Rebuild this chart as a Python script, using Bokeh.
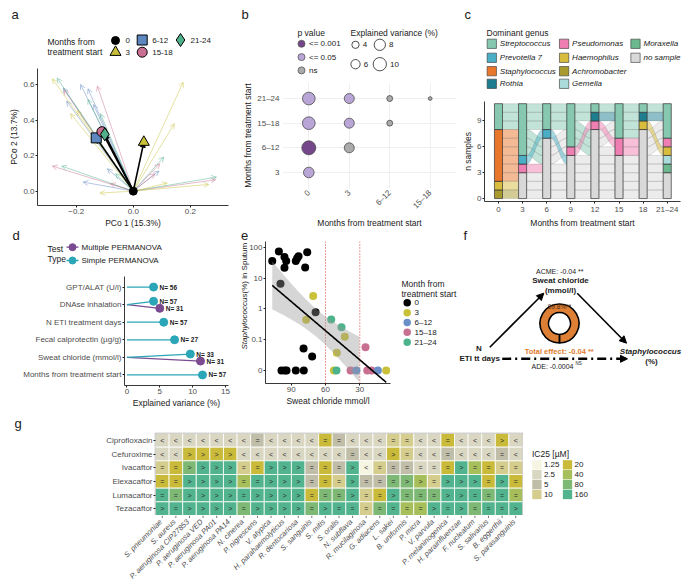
import numpy as np
from math import pi
from bokeh.plotting import figure
from bokeh.models import (ColumnDataSource, Range1d, FactorRange, Arrow, OpenHead, NormalHead,
                          FixedTicker, Span, CategoricalColorMapper)
from bokeh.embed import file_html
from bokeh.resources import INLINE
from bokeh.core.properties import value
from bokeh.transform import dodge, factor_cmap, transform

FONT = "Liberation Sans"
INK = "#1A1A1A"
GREY_TXT = "#4D4D4D"

# ======================= DATA =======================
# a: PCoA (arrows from baseline to each sample, plus group centroids)
a_groups = ["0", "3", "6-12", "15-18", "21-24"]
a_colors = ["#000000", "#C9C13A", "#5E87C0", "#C97092", "#4FB08A"]
a_markers = ["circle", "triangle", "square", "circle", "diamond"]
a_sizes = [8, 11, 10, 10, 13]
a_cent_x = [0.0, 0.037, -0.13, -0.11, -0.10]
a_cent_y = [0.0, 0.276, 0.30, 0.335, 0.32]
a3_x = [-0.284, -0.220, 0.175, 0.144, 0.265, 0.119, -0.117, -0.197]
a3_y = [0.633, 0.436, 0.614, 0.380, 0.038, 0.045, -0.011, 0.455]
a612_x = [-0.246, -0.185, -0.159, -0.234, -0.140, 0.090, -0.176, -0.091]
a612_y = [0.582, 0.601, 0.577, 0.507, 0.488, 0.113, 0.051, 0.126]
a1518_x = [-0.243, -0.126, 0.093, -0.284, -0.080, 0.289, 0.076]
a1518_y = [0.571, 0.592, 0.154, 0.141, 0.042, 0.064, 0.098]
a2124_x = [-0.267, -0.159, -0.115, 0.107, -0.251, -0.062, 0.292]
a2124_y = [0.637, 0.517, 0.436, 0.192, 0.141, 0.098, 0.079]

# b: pairwise PERMANOVA bubbles
b_cols = ["0", "3", "6–12", "15–18"]
b_rows = ["3", "6–12", "15–18", "21–24"]
b_x = ["0", "3", "6–12", "15–18", "0", "3", "6–12", "0", "3", "0"]
b_y = ["21–24", "21–24", "21–24", "21–24", "15–18", "15–18", "15–18", "6–12", "6–12", "3"]
b_var = [9.4, 6.7, 2.6, 0.4, 9.4, 6.7, 2.6, 10.7, 6.7, 7.3]
b_p = ["<= 0.05", "<= 0.05", "ns", "ns", "<= 0.05", "<= 0.05", "ns", "<= 0.001", "ns", "<= 0.05"]
b_levels = ["<= 0.001", "<= 0.05", "ns"]
b_lcolors = ["#74478A", "#B9A6D6", "#ABABAB"]
b_size_breaks = [4, 6, 8, 10]

# c: alluvial of dominant genus per subject
c_genus = ["Streptococcus", "Prevotella 7", "Staphylococcus", "Rothia", "Pseudomonas",
           "Haemophilus", "Achromobacter", "Gemella", "Moraxella", "no sample"]
c_colors = ["#86C8B0", "#4AAFC6", "#E8762B", "#1E7E8F", "#EF7FB2",
            "#D8BC3E", "#A99A2F", "#A9DCDB", "#6DB98F", "#D9D9D9"]
c_times = ["0", "3", "6", "9", "12", "15", "18", "21–24"]
St, Pr, Sa, Ro, Ps, Ha, Ac, Ge, Mo, NS = c_genus
c_t0 = [St, St, St, Sa, Sa, Sa, Sa, Sa, Sa, Ha, Ac]
c_t3 = [St, St, St, St, St, St, Pr, Ps, NS, NS, NS]
c_t6 = [St, St, St, NS, NS, NS, Pr, NS, NS, NS, NS]
c_t9 = [St, St, St, St, St, Ps, NS, NS, NS, NS, NS]
c_t12 = [St, Ro, NS, NS, NS, Ps, NS, NS, NS, NS, NS]
c_t15 = [St, St, St, St, Ps, Ps, NS, NS, NS, NS, NS]
c_t18 = [St, Ro, Ha, NS, NS, NS, NS, NS, NS, NS, NS]
c_t21 = [St, St, Ha, St, St, Ps, Ge, Mo, NS, NS, NS]

# d: explained variance lollipops
d_cats = ["GPT/ALAT (U/l)", "DNAse inhalation", "N ETI treatment days",
          "Fecal calprotectin (µg/g)", "Sweat chloride (mmol/l)", "Months from treatment start"]
d_cat = ["GPT/ALAT (U/l)", "DNAse inhalation", "DNAse inhalation", "N ETI treatment days",
         "Fecal calprotectin (µg/g)", "Sweat chloride (mmol/l)", "Sweat chloride (mmol/l)",
         "Months from treatment start"]
d_test = ["Simple", "Simple", "Multiple", "Simple", "Simple", "Simple", "Multiple", "Simple"]
d_var = [4.05, 4.05, 5.0, 5.6, 7.25, 9.65, 11.2, 11.5]
d_n = [56, 57, 31, 57, 27, 33, 31, 57]
d_tests = ["Multiple", "Simple"]
d_tlabels = ["Multiple PERMANOVA", "Simple PERMANOVA"]
d_tcolors = ["#7A4B90", "#2BA6B8"]

# e: Staphylococcus vs sweat chloride
e_groups = ["0", "3", "6–12", "15–18", "21–24"]
e_colors = ["#000000", "#C9C13A", "#6A8FC8", "#C87092", "#4DB38A"]
e_month = ["0", "0", "0", "0", "0", "0", "0", "0", "0", "0", "0", "0", "0", "0", "0", "0", "0", "0", "0",
           "3", "3", "3", "3", "3", "3",
           "21–24", "21–24", "21–24",
           "15–18", "15–18", "15–18", "15–18",
           "6–12", "6–12"]
e_chloride = [106.6, 100.8, 95.9, 94.4, 95.9, 86.0, 84.8, 83.6, 76.0, 77.8, 99.4, 68.7, 79.2, 71.7,
              98.5, 95.6, 94.1, 86.0, 79.0,
              70.8, 76.9, 43.1, 50.1, 52.7, 6.9,
              55.0, 46.0, 50.4,
              25.0, 38.1, 23.5, 19.7,
              33.0, 14.2]
e_staph = [35.5, 73, 48, 35.5, 21.5, 35.5, 44, 51, 69, 22, 6.5, 0.78, 0.052, 0.0285,
           0, 0, 0, 0, 0,
           2.6, 0.44, 0.124, 0.0375, 0, 0,
           0.45, 0.255, 0,
           0.057, 0, 0, 0,
           0, 0]
e_floor = 0.01
e_ticks = [0.01, 0.1, 1, 10, 100]
e_ticklabels = ["0", "0.1", "1", "10", "100"]
e_thresholds = [60, 30]

# f: mediation
f_acme = "-0.04"
f_total = "-0.04"
f_ade = "-0.0004"
f_mediated = 99.8

# g: IC25 heatmap
g_species = ["S. pneumoniae", "S. aureus", "P. aeruginosa CIP27853", "P. aeruginosa VED",
             "P. aeruginosa PA01", "P. aeruginosa PA14", "N. cinerea", "P. nigrescens", "V. atypica",
             "H. parahaemolyticus", "R. dentocariosa", "S. sanguinis", "S. mitis", "S. oralis",
             "N. subflava", "R. mucilaginosa", "G. adiacens", "L. sakei", "B. uniformis", "P. micra",
             "V. parvula", "P. melaninogenica", "H. parainfluenzae", "F. nucleatum", "S. salivarius",
             "B. eggerthii", "S. parasanguinis"]
g_drugs = ["Ciprofloxacin", "Cefuroxime", "Ivacaftor", "Elexacaftor", "Lumacaftor", "Tezacaftor"]
g_cipro = [2.5, 2.5, 2.5, 2.5, 2.5, 2.5, 2.5, 5, 2.5, 2.5, 2.5, 2.5, 20, 5, 2.5, 2.5, 2.5, 10, 10, 2.5, 2.5, 20, 2.5, 2.5, 2.5, 20, 2.5]
g_cefur = [2.5, 2.5, 20, 20, 20, 20, 2.5, 2.5, 2.5, 2.5, 2.5, 2.5, 2.5, 2.5, 5, 2.5, 2.5, 20, 10, 2.5, 2.5, 5, 2.5, 2.5, 2.5, 5, 2.5]
g_ivaca = [10, 20, 80, 160, 160, 160, 10, 20, 160, 160, 160, 5, 20, 5, 160, 1.25, 10, 5, 5, 2.5, 2.5, 20, 160, 40, 20, 10, 10]
g_elexa = [20, 20, 160, 160, 160, 160, 40, 160, 160, 160, 160, 5, 20, 10, 160, 5, 5, 80, 80, 40, 10, 160, 160, 160, 20, 160, 20]
g_luma = [160, 80, 160, 160, 160, 160, 160, 160, 160, 160, 160, 20, 80, 80, 160, 10, 20, 160, 80, 80, 80, 160, 160, 160, 80, 160, 40]
g_teza = [160, 160, 160, 160, 160, 160, 80, 160, 160, 160, 160, 80, 160, 160, 160, 10, 80, 160, 40, 40, 160, 160, 160, 80, 160, 160, 160]
g_sym_cipro = "<<<<<<<=<<<<==<<<==<<=<<<><"
g_sym_cefur = "<<>>>><<<<<<<<=<<>=<<=<<<=<"
g_sym_ivaca = "==>>>>==>>>===><======>===="
g_sym_elexa = "==>>>>==>>>===>===>>=>>>=>="
g_sym_luma = "==>>>>=>>>>===>==>===>>===="
g_sym_teza = ">=>>>>=>>>>=>=======>=>===>"
g_levels = ["1.25", "2.5", "5", "10", "20", "40", "80", "160"]
g_palette = ["#F6F5E2", "#D9D6C2", "#C0BEA8", "#D5CD8D", "#C9BA3A", "#A6BF5A", "#7DB875", "#52B38F"]

# ======================= HELPERS =======================
roots = []


def place(p, x, y):
    p.styles = {"position": "absolute", "left": f"{x}px", "top": f"{y}px"}
    p.stylesheets = [":host { position: absolute !important; left: %spx !important; top: %spx !important; }" % (x, y)]
    roots.append(p)


def clear_bg(p):
    p.background_fill_color = None
    p.border_fill_color = None
    p.outline_line_color = None


def style_axis(ax, line=True):
    ax.axis_line_color = "#222222" if line else None
    ax.axis_line_width = 0.9
    ax.major_tick_line_color = "#222222" if line else None
    ax.major_tick_out = 2
    ax.major_tick_in = 0
    ax.minor_tick_line_color = None
    ax.major_label_text_font = FONT
    ax.major_label_text_font_size = "8px"
    ax.major_label_text_color = GREY_TXT
    ax.major_label_standoff = 1
    ax.axis_label_text_font = FONT
    ax.axis_label_text_font_size = "8.5px"
    ax.axis_label_text_font_style = "normal"
    ax.axis_label_text_color = INK
    ax.axis_label_standoff = 1


def main_fig(x0, y0, w, h, xr, yr, l, r, t, b, line=True, **kw):
    p = figure(width=w, height=h, x_range=xr, y_range=yr, toolbar_location=None,
               output_backend="svg", min_border_left=l, min_border_right=r,
               min_border_top=t, min_border_bottom=b, **kw)
    clear_bg(p)
    p.grid.visible = False
    for ax in p.axis:
        style_axis(ax, line)
    place(p, x0, y0)
    return p


def T(p, x, y, s, size=8, color=INK, align="left", base="middle", style="normal", angle=0.0):
    p.text(x=[x], y=[-y], text=[s], text_font=value(FONT), text_font_size=f"{size}px",
           text_color=color, text_align=align, text_baseline=base, text_font_style=style,
           angle=angle)


# overlay in page pixel coordinates (y downwards negated): letters, legends, diagram
ov = figure(width=685, height=584, x_range=Range1d(0, 685), y_range=Range1d(-584, 0),
            toolbar_location=None, output_backend="svg", x_axis_location=None,
            y_axis_location=None, min_border=0)
clear_bg(ov)
ov.grid.visible = False
place(ov, 0, 0)

for letter, lx, ly in [("a", 11, 14), ("b", 241, 14), ("c", 464, 14), ("d", 12, 235),
                       ("e", 240.5, 235), ("f", 463, 235), ("g", 14, 423)]:
    T(ov, lx, ly, letter, 13)

# ======================= PANEL A =======================
T(ov, 47, 41, "Months from", 8.5)
T(ov, 47, 51.5, "treatment start", 8.5)
a_leg_xy = [(115, 40), (115, 51.7), (141.7, 39.5), (141.7, 51.7), (180, 39.5)]
for g, c, m, sz, (lx, ly) in zip(a_groups, a_colors, a_markers, a_sizes, a_leg_xy):
    ov.scatter([lx], [-ly], marker=m, size=sz, fill_color=c, line_color="black", line_width=1)
    T(ov, lx + 10, ly, g, 8)

pa = main_fig(0, 62, 240, 168, Range1d(-0.336, 0.334), Range1d(-0.081, 0.691), 37, 12, 6, 25)
pa.xaxis.axis_label = "PCo 1 (15.3%)"
pa.yaxis.axis_label = "PCo 2 (13.7%)"
pa.xaxis.ticker = FixedTicker(ticks=[-0.2, 0.0, 0.2])
pa.yaxis.ticker = FixedTicker(ticks=[0.0, 0.2, 0.4, 0.6])
pa.xaxis.major_label_overrides = {-0.2: "−0.2", 0: "0.0", 0.2: "0.2"}
pa.yaxis.major_label_overrides = {0: "0.0", 0.2: "0.2", 0.4: "0.4", 0.6: "0.6"}
for g, xs, ys in [("6-12", a612_x, a612_y), ("15-18", a1518_x, a1518_y),
                  ("21-24", a2124_x, a2124_y), ("3", a3_x, a3_y)]:
    c = a_colors[a_groups.index(g)]
    src = ColumnDataSource(dict(x0=[0.0] * len(xs), y0=[0.0] * len(xs), x1=xs, y1=ys))
    pa.add_layout(Arrow(end=OpenHead(size=5, line_color=c, line_alpha=0.6, line_width=0.8),
                        x_start="x0", y_start="y0", x_end="x1", y_end="y1", source=src,
                        line_color=c, line_alpha=0.6, line_width=0.8, level="underlay"))
cent_src = ColumnDataSource(dict(x0=[0.0] * 4, y0=[0.0] * 4, x1=a_cent_x[1:], y1=a_cent_y[1:]))
pa.add_layout(Arrow(end=NormalHead(size=5, fill_color="black", line_color="black"),
                    x_start="x0", y_start="y0", x_end="x1", y_end="y1", source=cent_src,
                    line_color="black", line_width=1.6, level="underlay"))
for g, c, m, sz, cx, cy in zip(a_groups, a_colors, a_markers, a_sizes, a_cent_x, a_cent_y):
    pa.scatter([cx], [cy], marker=m, size=sz, fill_color=c, line_color="black", line_width=1)

# ======================= PANEL B =======================
T(ov, 297, 32, "p value", 8.5)
for i, (lev, c) in enumerate(zip(b_levels, b_lcolors)):
    yy = 43.3 + 13.3 * i
    ov.scatter([301], [-yy], size=7, fill_color=c, line_color="#555555", line_width=0.8)
    T(ov, 308.5, yy, lev, 8)
T(ov, 350, 32, "Explained variance (%)", 8.5)
for v, (cx, cy) in zip(b_size_breaks, [(355, 44.3), (355, 63.7), (379.3, 44.3), (379.3, 63.7)]):
    d = 3.3 + v
    ov.scatter([cx], [-cy], size=d, fill_color="white", line_color="#222222", line_width=0.8)
    T(ov, cx + d / 2 + 3.5, cy, str(v), 8)

pb = main_fig(240, 78, 220, 152,
              FactorRange(*b_cols, range_padding=0.15, range_padding_units="absolute"),
              FactorRange(*b_rows, range_padding=0.15, range_padding_units="absolute"),
              30, 4, 4, 35, line=False)
pb.grid.visible = True
pb.grid.grid_line_color = "#EBEBEB"
pb.grid.grid_line_width = 0.8
pb.xaxis.major_label_orientation = pi / 4
pb.xaxis.axis_label = "Months from treatment start"
pb.yaxis.axis_label = "Months from treatment start"
b_src = ColumnDataSource(dict(x=b_x, y=b_y, d=[3.3 + v for v in b_var], p=b_p))
pb.scatter(x="x", y="y", size="d", source=b_src, fill_color=factor_cmap("p", b_lcolors, b_levels),
           line_color="#4A4A4A", line_width=0.8)

# ======================= PANEL C =======================
T(ov, 486, 32, "Dominant genus", 8.5)
for i, (g, c) in enumerate(zip(c_genus, c_colors)):
    col, r = divmod(i, 4)
    sx = [491.3, 563.6, 635.0][col]
    sy = [43.3, 57.3, 70.7, 83.3][r]
    ov.rect([sx], [-sy], width=9.3, height=9.3, fill_color=c, line_color="#333333", line_width=0.6)
    T(ov, sx + 8, sy, g, 8, style="italic")

pc = main_fig(460, 95, 225, 135, Range1d(-0.58, 7.55), Range1d(-0.34, 11.25), 23, 5, 6, 27)
pc.xaxis.ticker = FixedTicker(ticks=list(range(len(c_times))))
pc.xaxis.major_label_overrides = {i: t for i, t in enumerate(c_times)}
pc.yaxis.ticker = FixedTicker(ticks=[0, 3, 6, 9])
pc.xaxis.axis_label = "Months from treatment start"
pc.yaxis.axis_label = "n samples"

c_series = [c_t0, c_t3, c_t6, c_t9, c_t12, c_t15, c_t18, c_t21]
c_rank = {g: i for i, g in enumerate(reversed(c_genus))}
c_col = dict(zip(c_genus, c_colors))
nsub = len(c_t0)
bw = 1 / 3
u = np.linspace(0, 1, 24)
sm = (1 - np.cos(np.pi * u)) / 2
flows = []
for t in range(len(c_series) - 1):
    A, B = c_series[t], c_series[t + 1]
    out_order = sorted(range(nsub), key=lambda i: (c_rank[A[i]], c_rank[B[i]], i))
    in_order = sorted(range(nsub), key=lambda i: (c_rank[B[i]], c_rank[A[i]], i))
    ya = {i: k for k, i in enumerate(out_order)}
    yb = {i: k for k, i in enumerate(in_order)}
    x0, x1 = t + bw / 2, t + 1 - bw / 2
    xs = x0 + (x1 - x0) * u
    for i in range(nsub):
        bot = ya[i] + (yb[i] - ya[i]) * sm
        top = bot + 1
        flows.append((A[i] != NS, list(xs) + list(xs[::-1]), list(top) + list(bot[::-1]), c_col[A[i]]))
flows.sort(key=lambda f: f[0])
pc.patches(xs=[f[1] for f in flows], ys=[f[2] for f in flows], fill_color=[f[3] for f in flows],
           fill_alpha=0.5, line_color="#555555", line_alpha=0.35, line_width=0.5)
ql, qr, qb, qt, qc = [], [], [], [], []
for t, ser in enumerate(c_series):
    base = 0
    for g in reversed(c_genus):
        n = ser.count(g)
        if n:
            ql.append(t - bw / 2); qr.append(t + bw / 2); qb.append(base); qt.append(base + n)
            qc.append(c_col[g])
            base += n
pc.quad(left=ql, right=qr, bottom=qb, top=qt, fill_color=qc, line_color="#333333", line_width=0.7)

# ======================= PANEL D =======================
T(ov, 47, 248.3, "Test", 8.5)
T(ov, 47, 258.5, "Type", 8.5)
for lab, c, yy in zip(d_tlabels, d_tcolors, [246.7, 260]):
    ov.line([66, 78], [-yy, -yy], line_color=c, line_width=1.3)
    ov.scatter([72], [-yy], size=7, fill_color=c, line_color=c)
    T(ov, 81, yy, lab, 8)

pdd = main_fig(0, 270, 240, 140, Range1d(-0.37, 15.46),
               FactorRange(*reversed(d_cats), range_padding=0.1, range_padding_units="absolute"),
               124, 12, 6, 23)
pdd.xaxis.ticker = FixedTicker(ticks=[0, 5, 10, 15])
pdd.xaxis.axis_label = "Explained variance (%)"
d_color = dict(zip(d_tests, d_tcolors))
offs = []
for c, t in zip(d_cat, d_test):
    if d_cat.count(c) > 1:
        offs.append(0.19 if t == "Simple" else -0.21)
    else:
        offs.append(0.0)
for off in sorted(set(offs)):
    idx = [i for i, o in enumerate(offs) if o == off]
    src = ColumnDataSource(dict(cat=[d_cat[i] for i in idx], v=[d_var[i] for i in idx],
                                zero=[0.0] * len(idx), color=[d_color[d_test[i]] for i in idx],
                                lab=[f"N= {d_n[i]}" for i in idx]))
    yd = dodge("cat", off, range=pdd.y_range)
    pdd.segment(x0="zero", y0="cat", x1="v", y1=yd, line_color="color", line_width=1.3, source=src)
    pdd.scatter(x="v", y=yd, size=8, fill_color="color", line_color="color", source=src)
    pdd.text(x="v", y=yd, text="lab", x_offset=6, text_font=value(FONT), text_font_size="6.5px",
             text_font_style="bold", text_baseline="middle", text_color=INK, source=src)

# ======================= PANEL E =======================
pe = main_fig(240, 228, 160, 182, Range1d(112.5, 3.15), Range1d(-2.42, 2.185), 25, 10, 13, 27)
pe.xaxis.ticker = FixedTicker(ticks=[90, 60, 30])
e_tpos = [float(np.log10(v)) for v in e_ticks]
pe.yaxis.ticker = FixedTicker(ticks=e_tpos)
pe.yaxis.major_label_overrides = {tp: lab for tp, lab in zip(e_tpos, e_ticklabels)}
pe.xaxis.axis_label = "Sweat chloride mmol/l"
T(ov, 244, 293, "Staphylococcus", 8, align="right", style="italic", angle=pi / 2)
T(ov, 244, 293, " (%) in Sputum", 8, align="left", angle=pi / 2)
for loc in e_thresholds:
    pe.add_layout(Span(location=loc, dimension="height", line_color="#E03A32", line_dash="1 2",
                       line_width=1, level="underlay"))
ex = np.array(e_chloride, float)
ey = np.log10(np.maximum(np.array(e_staph, float), e_floor))
e_src = ColumnDataSource(dict(x=ex, y=ey, m=e_month))
pe.scatter(x="x", y="y", size=8, source=e_src, fill_color=factor_cmap("m", e_colors, e_groups),
           line_color=None)
slope, icpt = np.polyfit(ex, ey, 1)
n = len(ex)
resid = ey - (icpt + slope * ex)
s_err = np.sqrt(np.sum(resid ** 2) / (n - 2))
xg = np.linspace(ex.min(), ex.max(), 120)
fit = icpt + slope * xg
se = s_err * np.sqrt(1 / n + (xg - ex.mean()) ** 2 / np.sum((ex - ex.mean()) ** 2))
lo, hi = fit - 2.037 * se, fit + 2.037 * se
ymin = -2.42
mb = lo >= ymin
ml = fit >= ymin
pe.varea(x=xg[mb], y1=lo[mb], y2=hi[mb], fill_color="#999999", fill_alpha=0.4)
pe.line(xg[ml], fit[ml], line_color="black", line_width=1.6)

T(ov, 401, 283.3, "Month from", 8.5)
T(ov, 401, 293, "treatment start", 8.5)
for i, (g, c) in enumerate(zip(e_groups, e_colors)):
    yy = 302.3 + 9.85 * i
    ov.scatter([406.7], [-yy], size=7.5, fill_color=c, line_color=None)
    T(ov, 414, yy, g, 8)

# ======================= PANEL F =======================
T(ov, 559.3, 271.3, f"ACME: {f_acme} **", 7, align="center")
T(ov, 560, 280.3, "Sweat chloride", 8, align="center", style="bold")
T(ov, 560, 289.5, "(mmol/l)", 8, align="center", style="bold")
gap = (100 - f_mediated) / 100 * 2 * pi
ov.annular_wedge(x=[559], y=[-323], inner_radius=11, outer_radius=19.5,
                 inner_radius_units="screen", outer_radius_units="screen",
                 start_angle=-pi / 2 + gap / 2, end_angle=-pi / 2 - gap / 2 + 2 * pi,
                 fill_color="#DE7F36", line_color="black", line_width=1.6)
ov.annular_wedge(x=[559], y=[-323], inner_radius=11, outer_radius=19.5,
                 inner_radius_units="screen", outer_radius_units="screen",
                 start_angle=-pi / 2 - gap / 2, end_angle=-pi / 2 + gap / 2,
                 fill_color="white", line_color="black", line_width=1)
T(ov, 559, 305.5, f"{f_mediated}%**", 6.5, color="#4A2A10", align="center")
for (xs_, ys_, xe_, ye_) in [(489.3, 346.7, 543.3, 292.7), (576.7, 292.7, 626, 342.7)]:
    ov.add_layout(Arrow(x_start=xs_, y_start=-ys_, x_end=xe_, y_end=-ye_, line_width=1.6,
                        line_color="black",
                        end=NormalHead(size=7, fill_color="black", line_color="black")))
ov.add_layout(Arrow(x_start=501.7, y_start=-358.3, x_end=627, y_end=-358.3, line_width=2.4,
                    line_dash="9 4 2 4", line_color="black",
                    end=NormalHead(size=7, fill_color="black", line_color="black")))
T(ov, 478.3, 348.3, "N", 8, style="bold", align="center")
T(ov, 459, 358.3, "ETI tt days", 8, style="bold", align="left")
T(ov, 558.7, 350.7, f"Total effect: {f_total} **", 7.5, color="#E07B2E", style="bold", align="center")
T(ov, 552, 365.5, f"ADE: {f_ade}", 7, align="center")
T(ov, 575, 363.3, "NS", 4.5)
T(ov, 650, 350.5, "Staphylococcus", 8, style="bold italic", align="center")
T(ov, 651, 360.7, "(%)", 8, style="bold", align="center")

# ======================= PANEL G =======================
pg = main_fig(0, 428, 523, 87, FactorRange(*g_species), FactorRange(*reversed(g_drugs)),
              155, 1, 5, 0, x_axis_location=None)
pg.yaxis.axis_line_color = None
pg.outline_line_color = "#A6A6A6"
pg.outline_line_width = 1.5
g_vals = [g_cipro, g_cefur, g_ivaca, g_elexa, g_luma, g_teza]
g_syms = [g_sym_cipro, g_sym_cefur, g_sym_ivaca, g_sym_elexa, g_sym_luma, g_sym_teza]
hx, hy, hl, hs = [], [], [], []
for drug, vals, syms in zip(g_drugs, g_vals, g_syms):
    for sp, v, sy in zip(g_species, vals, syms):
        hx.append(sp); hy.append(drug); hl.append(f"{v:g}"); hs.append(sy)
g_src = ColumnDataSource(dict(x=hx, y=hy, lev=hl, sym=hs))
g_map = CategoricalColorMapper(factors=g_levels, palette=g_palette)
pg.rect(x="x", y="y", width=1, height=1, source=g_src, fill_color=transform("lev", g_map),
        line_color="white", line_width=0.8)
pg.text(x="x", y="y", text="sym", source=g_src, text_align="center", text_baseline="middle",
        text_font=value(FONT), text_font_size="7px", text_color="#2B2B2B")

cw = 367 / len(g_species)
pg_lab = figure(width=523, height=69, x_range=Range1d(-155 / cw, len(g_species) + 1 / cw),
                y_range=Range1d(-584, -515), toolbar_location=None, output_backend="svg",
                x_axis_location=None, y_axis_location=None, min_border=0)
clear_bg(pg_lab)
pg_lab.grid.visible = False
place(pg_lab, 0, 515)
tx = np.arange(len(g_species)) + 0.5
pg_lab.segment(x0=tx, y0=[-515] * len(tx), x1=tx, y1=[-517.5] * len(tx), line_color="#555555",
               line_width=0.8)
pg_lab.text(x=tx - 1.5 / cw, y=[-520] * len(tx), text=g_species, angle=pi / 4, text_align="right",
            text_baseline="middle", text_font=value(FONT), text_font_size="7.5px",
            text_font_style="italic", text_color=GREY_TXT)

T(ov, 531.5, 453.3, "IC25 [µM]", 8.5)
for i, (lev, c) in enumerate(zip(g_levels, g_palette)):
    col, r = divmod(i, 4)
    sx = 536.4 + col * 30.6
    sy = 464.3 + r * 9.9
    ov.rect([sx], [-sy], width=9.3, height=9.3, fill_color=c, line_color=None)
    T(ov, sx + 7, sy, lev, 8)

open("out.html", "w").write(file_html(roots, INLINE))
